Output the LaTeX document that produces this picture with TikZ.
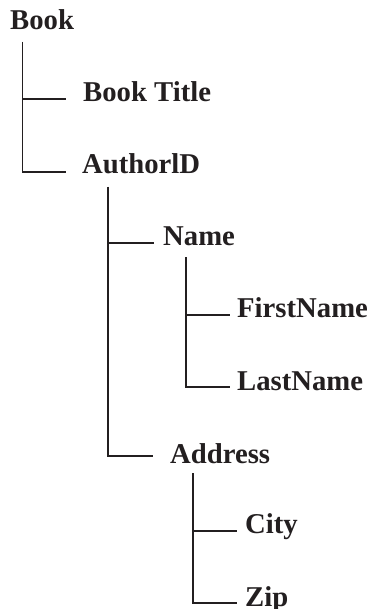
\documentclass[tikz,border=0pt]{standalone}
\usepackage{fontspec}
\setmainfont{Liberation Serif}
\usepackage{tikz}
\usetikzlibrary{positioning}
\definecolor{ink}{RGB}{35,31,32}

\begin{document}
\begin{tikzpicture}[x=1pt,y=-1pt,ink,
	item/.style={anchor=base west,inner sep=0pt,text=ink,font=\fontsize{28.7}{34}\selectfont\bfseries},
	branch/.style={line width=1.7pt,draw=ink,-}]

	\useasboundingbox (0,0) rectangle (371,609);

    \node[item] (book) at (10,30) {Book};
    \node[item] (title) at (83,102) {Book Title};
    \node[item] (author) at (82,174) {AuthorlD};
    \node[item] (name) at (163,246) {Name};
    \node[item] (first) at (237,317) {FirstName};
    \node[item] (last) at (237,390) {LastName};
    \node[item] (address) at (170,463) {Address};
    \node[item] (city) at (245,533) {City};
    \node[item] (zip) at (245,606) {Zip};

	% stems below the parents
	\coordinate (bookstem) at ([shift={(12.5pt,-12pt)}]book.base west);
	\coordinate (authorstem) at ([shift={(26pt,-13pt)}]author.base west);
	\coordinate (namestem) at ([shift={(23pt,-11pt)}]name.base west);
	\coordinate (addressstem) at ([shift={(23pt,-10pt)}]address.base west);

	\draw[branch] (bookstem) |- ([shift={(-17pt,3pt)}]title.base west);
	\draw[branch] (bookstem) |- ([shift={(-16pt,2pt)}]author.base west);
	\draw[branch] (authorstem) |- ([shift={(-9pt,3pt)}]name.base west);
	\draw[branch] (authorstem) |- ([shift={(-17pt,7pt)}]address.base west);
	\draw[branch] (namestem) |- ([shift={(-7pt,2pt)}]first.base west);
	\draw[branch] (namestem) |- ([shift={(-7pt,3pt)}]last.base west);
	\draw[branch] (addressstem) |- ([shift={(-8pt,2pt)}]city.base west);
	\draw[branch] (addressstem) |- ([shift={(-8pt,3pt)}]zip.base west);

  \end{tikzpicture}
\end{document}
